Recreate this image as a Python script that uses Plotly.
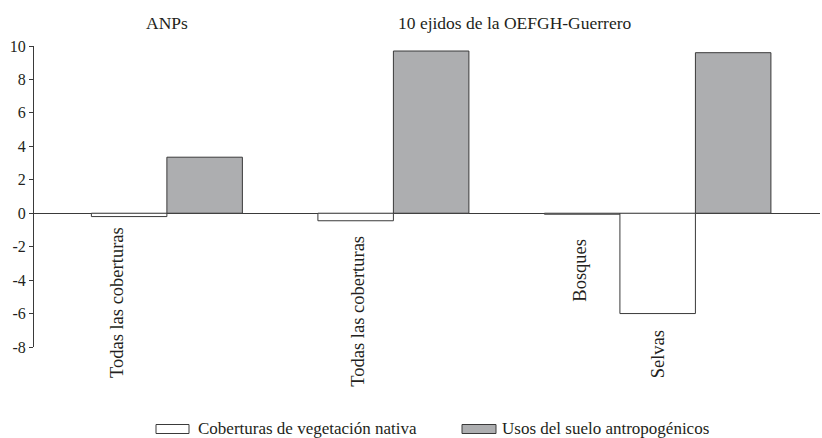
import plotly.graph_objects as go

# ---- data ----
group_titles = ["ANPs", "10 ejidos de la OEFGH-Guerrero"]
native_labels = ["Todas las coberturas", "Todas las coberturas", "Bosques", "Selvas"]
native_values = [-0.2, -0.45, -0.06, -6.0]
anthro_values = [3.35, 9.7, 9.6]
series_names = ["Coberturas de vegetación nativa", "Usos del suelo antropogénicos"]
y_tick_vals = [10, 8, 6, 4, 2, 0, -2, -4, -6, -8]
y_tick_text = ["10", "8", "6", "4", "2", "0", "-2", "-4", "-6", "-8"]

# ---- layout helpers (slot positions along x) ----
native_slots = [0, 3, 6, 7]
anthro_slots = [1, 4, 8]

FONT = "Liberation Serif, Times New Roman, serif"
TXT = "#231f20"
EDGE = "#3a3a3a"
GRAY = "#adaeb0"

# plot-area geometry in pixels (for paper coordinate conversion)
W, H = 822, 438
L, R, T, B = 34, 2, 46, 91
PW, PH = W - L - R, H - T - B


def px_to_paper_x(px):
    return (px - L) / PW


def px_to_paper_y(py):
    return (H - B - py) / PH


fig = go.Figure()
fig.add_trace(go.Bar(
    x=native_slots, y=native_values, width=1,
    marker=dict(color="white", line=dict(color=EDGE, width=1)),
    name=series_names[0], showlegend=False, hoverinfo="y"))
fig.add_trace(go.Bar(
    x=anthro_slots, y=anthro_values, width=1,
    marker=dict(color=GRAY, line=dict(color=EDGE, width=1)),
    name=series_names[1], showlegend=False, hoverinfo="y"))

annotations = []
# group titles
title_x = [0.5, 5.11]
for t, xx in zip(group_titles, title_x):
    annotations.append(dict(text=t, x=xx, xref="x", y=px_to_paper_y(23), yref="paper",
                            xanchor="center", yanchor="middle", showarrow=False,
                            font=dict(family=FONT, size=17.5, color=TXT)))

# rotated category labels
label_x = [-0.17, 3.03, 5.97, 7.0]
label_top = [-0.72, -1.2, -1.38, -6.9]
for lab, xx, yy in zip(native_labels, label_x, label_top):
    annotations.append(dict(text=lab, x=xx, xref="x", y=yy, yref="y",
                            xanchor="center", yanchor="top", textangle=-90,
                            showarrow=False,
                            font=dict(family=FONT, size=18.5, color=TXT)))

# custom legend
shapes = []
legend_boxes = [(156, 189, "white"), (462, 496, GRAY)]
legend_text_x = [196, 500]
for (x0, x1, col), tx, name in zip(legend_boxes, legend_text_x, series_names):
    shapes.append(dict(type="rect", xref="paper", yref="paper",
                       x0=px_to_paper_x(x0), x1=px_to_paper_x(x1),
                       y0=px_to_paper_y(433.5), y1=px_to_paper_y(424.5),
                       fillcolor=col, line=dict(color=EDGE, width=1)))
    annotations.append(dict(text=name, x=px_to_paper_x(tx), xref="paper",
                            y=px_to_paper_y(428), yref="paper",
                            xanchor="left", yanchor="middle", showarrow=False,
                            font=dict(family=FONT, size=17, color=TXT)))

fig.update_layout(
    width=W, height=H,
    margin=dict(l=L, r=R, t=T, b=B),
    barmode="overlay",
    plot_bgcolor="white", paper_bgcolor="white",
    font=dict(family=FONT, size=16, color=TXT),
    annotations=annotations,
    shapes=shapes,
    xaxis=dict(range=[-1.26, 9.15], visible=False, fixedrange=True),
    yaxis=dict(range=[-8, 10], tickvals=y_tick_vals, ticktext=y_tick_text,
               ticks="outside", ticklen=4, tickcolor=EDGE, tickwidth=1,
               showline=True, linecolor=EDGE, linewidth=1,
               showgrid=False, zeroline=True, zerolinecolor=EDGE, zerolinewidth=1,
               tickfont=dict(family=FONT, size=16, color=TXT)),
)

fig.write_html("out.html", config={"displayModeBar": False},
               post_script="document.body.style.margin='0px';")
